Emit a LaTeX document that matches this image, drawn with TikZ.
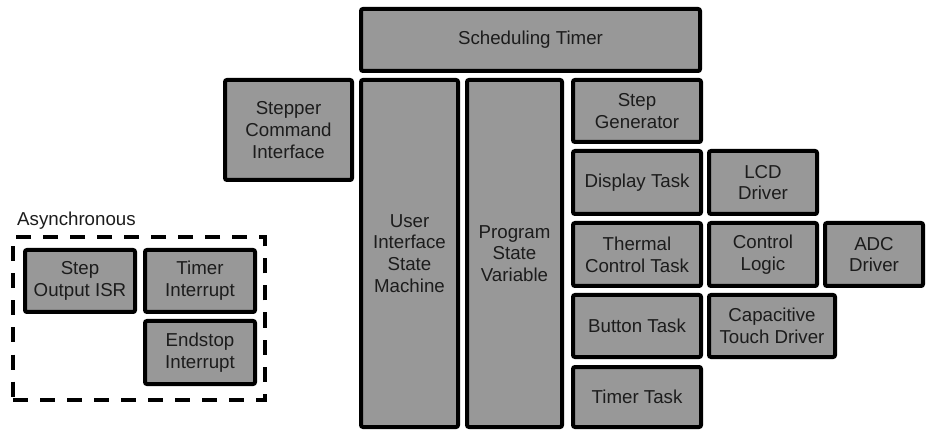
\documentclass[tikz,border=0pt]{standalone}
\usepackage{fontspec}
\setmainfont{Liberation Sans}
\definecolor{boxfill}{RGB}{152,152,152}
\definecolor{txt}{RGB}{28,28,28}
\begin{document}
\begin{tikzpicture}[x=1pt,y=-1pt,
  blk/.style={draw=black, line width=4pt, fill=boxfill, rounded corners=2pt,
    align=center, inner sep=0pt, text=txt,
    font=\fontsize{18.7}{21.7}\selectfont},
  dashbox/.style={draw=black, line width=4pt, dash pattern=on 15pt off 12pt, inner sep=0pt},
  lbl/.style={text=txt, inner sep=0pt, font=\fontsize{18.7}{21.7}\selectfont}]
\useasboundingbox (0,0) rectangle (929,430);
% top
\node[blk, minimum width=339, minimum height=62] (sched) at (530.5,40) {Scheduling Timer};
\node[blk, minimum width=127, minimum height=100] (stepper) at (288.5,130) {Stepper\\Command\\Interface};
\node[blk, minimum width=97, minimum height=347] (ui) at (409.5,253.5) {User\\Interface\\State\\Machine};
\node[blk, minimum width=95, minimum height=347] (psv) at (514.5,253.5) {Program\\State\\Variable};
% right column
\node[blk, minimum width=128, minimum height=62] (stepgen) at (637,111) {Step\\Generator};
\node[blk, minimum width=128, minimum height=63] (display) at (637,182.5) {Display Task};
\node[blk, minimum width=128, minimum height=63] (thermal) at (637,254.5) {Thermal\\Control Task};
\node[blk, minimum width=128, minimum height=62] (button) at (637,326) {Button Task};
\node[blk, minimum width=128, minimum height=60] (timertask) at (637,397) {Timer Task};
\node[blk, minimum width=108, minimum height=63] (lcd) at (763,182.5) {LCD\\Driver};
\node[blk, minimum width=108, minimum height=63] (control) at (763,254.5) {Control\\Logic};
\node[blk, minimum width=98, minimum height=63] (adc) at (874,254.5) {ADC\\Driver};
\node[blk, minimum width=126, minimum height=62] (cap) at (772,326) {Capacitive\\Touch Driver};
% asynchronous
\node[lbl, anchor=west] (asynclbl) at (17,221) {Asynchronous};
\node[dashbox, minimum width=252, minimum height=162] (async) at (139,318.5) {};
\node[blk, minimum width=110, minimum height=62] (stepout) at (80,281) {Step\\Output ISR};
\node[blk, minimum width=110, minimum height=62] (timerint) at (200,281) {Timer\\Interrupt};
\node[blk, minimum width=110, minimum height=63] (endstop) at (200,352.5) {Endstop\\Interrupt};
\end{tikzpicture}
\end{document}
